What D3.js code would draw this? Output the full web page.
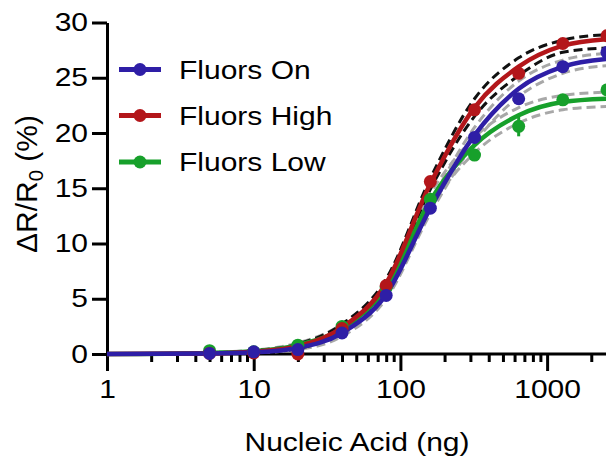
<!DOCTYPE html>
<html><head><meta charset="utf-8">
<script src="https://cdn.jsdelivr.net/npm/d3@7"></script>
<style>body{margin:0;background:#fff}svg{display:block}text{font-family:"Liberation Sans",Arial,sans-serif;fill:#000}</style>
</head><body><svg id="c" width="606" height="461"></svg>
<script>
// ---- data ----
const doses = [5, 10, 20, 40, 80, 160, 320, 640, 1280, 2560];
const seriesNames = ["Fluors On", "Fluors High", "Fluors Low"];
const onValues   = [0.05, 0.2, 0.4, 1.9, 5.3, 13.2, 19.6, 23.1, 26.0, 27.3];
const highValues = [0.05, 0.1, 0.0, 2.3, 6.2, 15.6, 22.1, 25.4, 28.1, 28.8];
const lowValues  = [0.3, 0.2, 0.8, 2.5, 6.0, 14.0, 18.0, 20.6, 23.0, 23.9];
const onErr   = [0, 0, 0, 0, 0, 0, 0, 0.4, 0, 0];
const highErr = [0, 0, 0, 0, 0, 0, 0, 0, 0, 0];
const lowErr  = [0, 0, 0, 0, 0, 0, 0, 0.9, 0, 0];
// fitted curves
const fitX      = [1, 5, 10, 20, 40, 80, 160, 320, 640, 1280, 2560];
const onFit     = [0, 0.04, 0.15, 0.55, 1.9, 5.4, 13.2, 19.8, 24.0, 26.0, 26.7];
const onUpper   = [0, 0.06, 0.25, 0.8, 2.3, 5.9, 13.7, 20.5, 24.7, 26.6, 27.2];
const onLower   = [0, 0.02, 0.1, 0.4, 1.6, 5.0, 12.7, 19.1, 23.3, 25.4, 26.1];
const highFit   = [0, 0.05, 0.2, 0.7, 2.4, 6.4, 15.4, 22.3, 26.0, 27.9, 28.5];
const highUpper = [0, 0.08, 0.3, 0.9, 2.7, 6.8, 15.9, 23.1, 26.8, 28.4, 28.9];
const highLower = [0, 0.03, 0.12, 0.5, 2.1, 6.0, 14.9, 21.5, 25.2, 27.3, 27.7];
const lowFit    = [0, 0.1, 0.25, 0.8, 2.3, 6.0, 13.9, 18.9, 21.6, 22.8, 23.1];
const lowUpper  = [0, 0.15, 0.35, 1.0, 2.7, 6.5, 14.5, 19.6, 22.3, 23.4, 23.7];
const lowLower  = [0, 0.05, 0.15, 0.6, 2.0, 5.5, 13.3, 18.2, 20.9, 22.1, 22.4];
const xTickLabels = [1, 10, 100, 1000];
const yTickLabels = [0, 5, 10, 15, 20, 25, 30];
const xTitle = "Nucleic Acid (ng)";

// ---- chart ----
const colors = {on:"#2e1ea6", high:"#b3161a", low:"#17a02b"};
const SX = 1.2; // horizontal text stretch seen in the reference
const svg = d3.select("#c");
svg.append("rect").attr("width",606).attr("height",461).attr("fill","#fff");

const x = d3.scaleLog().domain([1, 2560]).range([107, 607]);
const y = d3.scaleLinear().domain([0, 30]).range([354, 22.5]);

// axes
const minor = x.ticks().filter(v => !xTickLabels.includes(v) && v <= 2560);
const gMinor = svg.append("g").attr("transform","translate(0,354)")
  .call(d3.axisBottom(x).tickValues(minor).tickSize(8).tickSizeOuter(0).tickFormat(""));
gMinor.select(".domain").remove();
gMinor.selectAll("line").attr("stroke","#000").attr("stroke-width",3);

const gx = svg.append("g").attr("transform","translate(0,354)")
  .call(d3.axisBottom(x).tickValues(xTickLabels).tickSize(17).tickSizeOuter(0).tickPadding(9).tickFormat(d3.format("d")));
gx.select(".domain").attr("stroke","#000").attr("stroke-width",3).attr("d","M107,0H606");
gx.selectAll("line").attr("stroke","#000").attr("stroke-width",3);
gx.selectAll("text").attr("font-size",25).attr("fill","#000")
  .attr("transform",`scale(${SX},1)`).attr("x",0);

const gy = svg.append("g").attr("transform","translate(107,0)")
  .call(d3.axisLeft(y).tickValues(yTickLabels).tickSize(15).tickSizeOuter(0).tickPadding(4));
gy.select(".domain").attr("stroke","#000").attr("stroke-width",3);
gy.selectAll("line").attr("stroke","#000").attr("stroke-width",3);
gy.selectAll("text").attr("font-size",25).attr("fill","#000")
  .attr("transform",`scale(${SX},1)`).attr("x",-19/SX);

// axis titles
svg.append("text").attr("text-anchor","middle").attr("font-size",25)
  .attr("transform",`translate(357,451) scale(${SX},1)`).text(xTitle);
const yt = svg.append("text").attr("text-anchor","middle").attr("font-size",25)
  .attr("transform",`translate(37,184) scale(1.2,1.2) rotate(-90)`);
yt.append("tspan").text("\u0394R/R");
yt.append("tspan").attr("font-size",17).attr("dy",5).text("0");
yt.append("tspan").attr("dy",-5).text(" (%)");

// curves
const line = d3.line().x(d => x(d[0])).y(d => y(d[1])).curve(d3.curveMonotoneX);
const pairs = arr => fitX.map((v,i) => [v, arr[i]]);
const bands = [
  [onUpper,"#a8a8a8"],[onLower,"#a8a8a8"],
  [lowUpper,"#a8a8a8"],[lowLower,"#a8a8a8"],
  [highUpper,"#111"],[highLower,"#111"]
];
bands.forEach(([arr,c]) => svg.append("path").attr("d", line(pairs(arr)))
  .attr("fill","none").attr("stroke",c).attr("stroke-width",3).attr("stroke-dasharray","9,5"));

const series = [
  {key:"low", vals:lowValues, err:lowErr, fit:lowFit},
  {key:"high", vals:highValues, err:highErr, fit:highFit},
  {key:"on", vals:onValues, err:onErr, fit:onFit}
];
series.forEach(s => svg.append("path").attr("d", line(pairs(s.fit)))
  .attr("fill","none").attr("stroke",colors[s.key]).attr("stroke-width",4.5));
series.forEach(s => {
  const g = svg.append("g");
  doses.forEach((d,i) => {
    if (s.err[i] > 0) {
      g.append("line").attr("x1",x(d)).attr("x2",x(d))
        .attr("y1",y(s.vals[i]-s.err[i])).attr("y2",y(s.vals[i]+s.err[i]))
        .attr("stroke",colors[s.key]).attr("stroke-width",3);
    }
  });
  g.selectAll("circle").data(doses).join("circle")
    .attr("cx", d => x(d)).attr("cy", (d,i) => y(s.vals[i]))
    .attr("r",6.5).attr("fill",colors[s.key]);
});

// legend
const legendKeys = ["on","high","low"];
const legendY = [69.5, 115.5, 162];
seriesNames.forEach((n,i) => {
  const g = svg.append("g").attr("transform",`translate(0,${legendY[i]})`);
  g.append("line").attr("x1",119).attr("x2",161).attr("stroke",colors[legendKeys[i]]).attr("stroke-width",5);
  g.append("circle").attr("cx",140).attr("r",6.5).attr("fill",colors[legendKeys[i]]);
  g.append("text").attr("font-size",25).attr("transform",`translate(179,9) scale(${SX},1)`).text(n);
});
</script></body></html>
